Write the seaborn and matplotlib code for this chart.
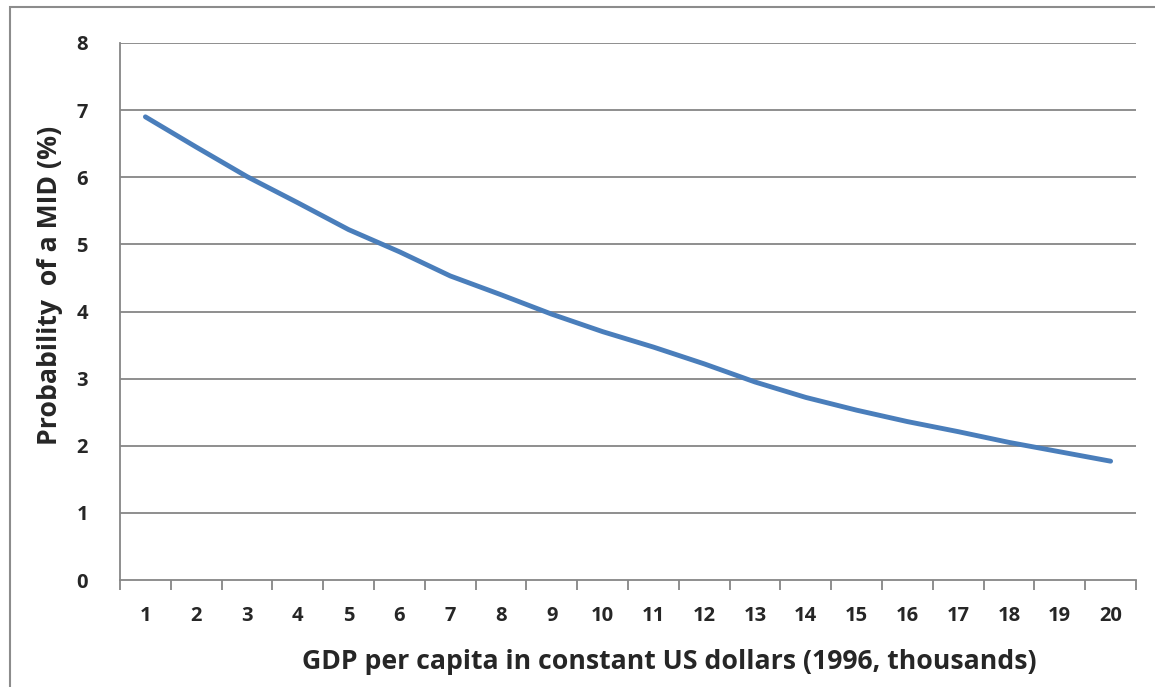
import numpy as np
import pandas as pd
import matplotlib.pyplot as plt
import seaborn as sns
from matplotlib.patches import Rectangle

gdp = list(range(1, 21))
prob = [6.90, 6.45, 6.01, 5.62, 5.22, 4.89, 4.53, 4.25, 3.96, 3.70,
        3.47, 3.22, 2.95, 2.72, 2.53, 2.36, 2.21, 2.05, 1.91, 1.77]
yticks = [0, 1, 2, 3, 4, 5, 6, 7, 8]

df = pd.DataFrame({"gdp": gdp, "prob": prob})

sns.set_style("white")
plt.rcParams['font.family'] = ['Open Sans', 'DejaVu Sans']
plt.rcParams['font.weight'] = 'bold'

W, H = 1155, 687
fig = plt.figure(figsize=(W / 100, H / 100), dpi=100)
ax = fig.add_axes([120 / W, 1 - 580 / H, (1136 - 120) / W, (580 - 43) / H])

# outer chart border (cut off at right/bottom like the original)
fig.patches.append(Rectangle((10 / W, -0.05), 1.2, 1 - 7 / H + 0.05,
                             transform=fig.transFigure, fill=False,
                             edgecolor='#8c8c8c', linewidth=1.5))

grid = '#868686'
for v in yticks[1:]:
    ax.axhline(v, color=grid, linewidth=1.3, zorder=1)

sns.lineplot(data=df, x="gdp", y="prob", color='#4a7ebb', linewidth=3.5,
             solid_capstyle='round', ax=ax, zorder=3)

ax.set_xlim(0.5, 20.5)
ax.set_ylim(0, 8)
ax.set_yticks(yticks)
ax.set_xticks(gdp)
ax.set_xticks(np.arange(0.5, 21, 1), minor=True)
ax.tick_params(axis='x', which='major', length=0, pad=19, labelsize=14.5)
ax.tick_params(axis='x', which='minor', length=7, color=grid, width=1.3, direction='out')
ax.tick_params(axis='y', which='major', length=7, color=grid, width=1.3,
               direction='out', pad=16, labelsize=14.5)
ax.xaxis.set_tick_params(which='minor', bottom=True)
for lab in ax.get_xticklabels() + ax.get_yticklabels():
    lab.set_fontweight('bold')

for s in ['top', 'right']:
    ax.spines[s].set_visible(False)
for s in ['left', 'bottom']:
    ax.spines[s].set_color(grid)
    ax.spines[s].set_linewidth(1.3)

ax.set_xlabel("")
ax.set_ylabel("")
fig.text(669 / W, 1 - 662 / H, "GDP per capita in constant US dollars (1996, thousands)",
         ha='center', va='center', fontsize=19.2, fontweight='bold')
fig.text(50 / W, 1 - 285 / H, "Probability  of a MID (%)", rotation=90,
         ha='center', va='center', fontsize=19.2, fontweight='bold')

fig.savefig("out.png", dpi=100)
